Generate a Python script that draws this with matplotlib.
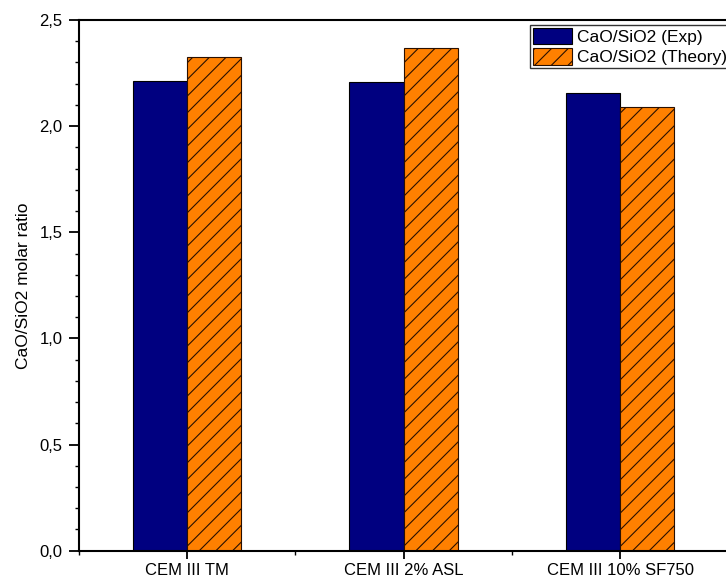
import numpy as np
import matplotlib
matplotlib.use('Agg')
import matplotlib.pyplot as plt
from matplotlib.ticker import MultipleLocator, FixedLocator, FuncFormatter

plt.rcParams['font.family'] = ['Liberation Sans', 'DejaVu Sans']
plt.rcParams['hatch.linewidth'] = 0.8

categories = ['CEM III TM', 'CEM III 2% ASL', 'CEM III 10% SF750']
exp_vals = [2.214, 2.209, 2.155]
theory_vals = [2.327, 2.370, 2.088]
labels = ['CaO/SiO2 (Exp)', 'CaO/SiO2 (Theory)']

fig = plt.figure(figsize=(7.26, 5.85), dpi=100)
ax = fig.add_axes([78.5/726, 34.3/585, 650/726, 530.7/585])

x = np.arange(1, len(categories) + 1)
w = 0.25
ax.bar(x - w/2, exp_vals, w, color='#000080', edgecolor='black', linewidth=0.8, label=labels[0])
ax.bar(x + w/2, theory_vals, w, color='#FF8000', edgecolor='#2a1000', linewidth=0.8,
       hatch='//', label=labels[1])

ax.set_xlim(0.5, 3.5)
ax.set_ylim(0, 2.5)
ax.set_xticks(x)
ax.set_xticklabels(categories, fontsize=12)
ax.xaxis.set_minor_locator(FixedLocator([0.5, 1.5, 2.5, 3.5]))
ax.yaxis.set_major_locator(MultipleLocator(0.5))
ax.yaxis.set_minor_locator(MultipleLocator(0.1))
ax.yaxis.set_major_formatter(FuncFormatter(lambda v, p: ('%.1f' % v).replace('.', ',')))
ax.tick_params(axis='both', which='major', direction='out', length=5.5, width=1.3, labelsize=12)
ax.tick_params(axis='both', which='minor', direction='out', length=3, width=1.0)
ax.tick_params(axis='y', which='major', length=7.5, pad=4)
for s in ax.spines.values():
    s.set_linewidth(1.5)

ax.set_ylabel('CaO/SiO2 molar ratio', fontsize=12.5, labelpad=6)

leg = ax.legend(loc='upper left', bbox_to_anchor=(530/726, 1 - 25/585),
                bbox_transform=fig.transFigure, fontsize=12.5, frameon=True,
                fancybox=False, edgecolor='#333333', framealpha=1,
                handlelength=2.25, handleheight=1.05, handletextpad=0.3,
                labelspacing=0.2, borderpad=0.17, borderaxespad=0)
leg.get_frame().set_linewidth(1.0)

fig.savefig('out.png', dpi=100)
